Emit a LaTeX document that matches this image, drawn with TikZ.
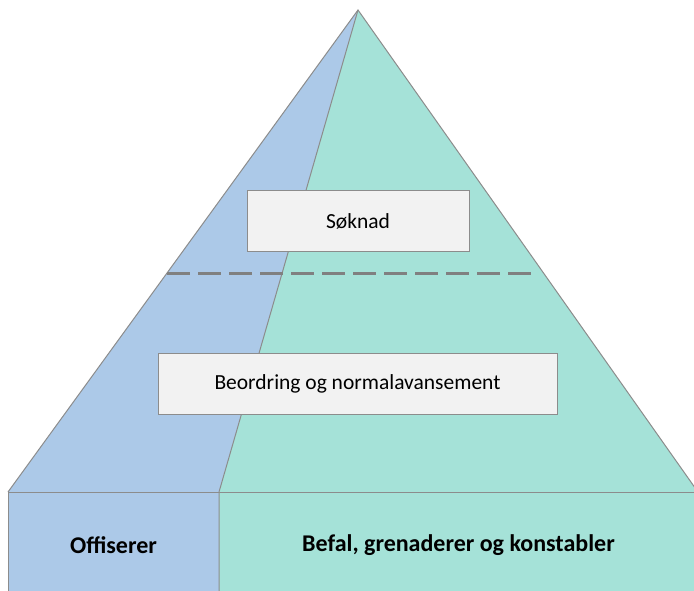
\documentclass[tikz,border=0pt]{standalone}
\usepackage{fontspec}
\setmainfont{Carlito}
\definecolor{pblue}{RGB}{172,201,232}
\definecolor{pgreen}{RGB}{165,226,216}
\definecolor{edgegray}{RGB}{140,140,140}
\definecolor{dashgray}{RGB}{128,128,128}
\definecolor{boxfill}{RGB}{242,242,242}
\begin{document}
\begin{tikzpicture}[x=1pt,y=-1pt,
  edge/.style={draw=edgegray,line width=1pt},
  textbox/.style={draw=edgegray,fill=boxfill,line width=1pt,minimum width=#1,minimum height=61pt,inner sep=0pt,font=\fontsize{21.5}{25}\selectfont},
  label/.style={font=\bfseries\fontsize{24}{28}\selectfont}]
\useasboundingbox (0,0) rectangle (694,590);
\clip (0,0) rectangle (694,590);
\coordinate (apex) at (358,10);
\coordinate (bl) at (8,492);
\coordinate (br) at (698,492);
\coordinate (bm) at (219,492);
% fills
\fill[pblue] (apex) -- (bl) -- (8,600) -- (219,600) -- (bm) -- cycle;
\fill[pgreen] (apex) -- (bm) -- (219,600) -- (698,600) -- (br) -- cycle;
% outlines
\draw[edge] (bl) -- (apex) -- (br);
\draw[edge] (apex) -- (bm) -- (219,600);
\draw[edge] (bl) -- (br);
\draw[edge] (bl) -- (8,600);
\draw[edge] (br) -- (698,600);
% dashed line
\coordinate (dl) at (167,273);
\coordinate (dr) at (536,273);
\draw[dashgray,line width=3pt,dash pattern=on 23pt off 8pt] (dl) -- (dr);
% boxes
\node[textbox=222pt] (soknad) at (358,221) {Søknad};
\node[textbox=399pt] (beordring) at (357.5,383.5) {Beordring og normalavansement};
% labels
\node[label] (off) at (113.5,545) {Offiserer};
\node[label] (befal) at (458.5,545) {Befal, grenaderer og konstabler};
\end{tikzpicture}
\end{document}
